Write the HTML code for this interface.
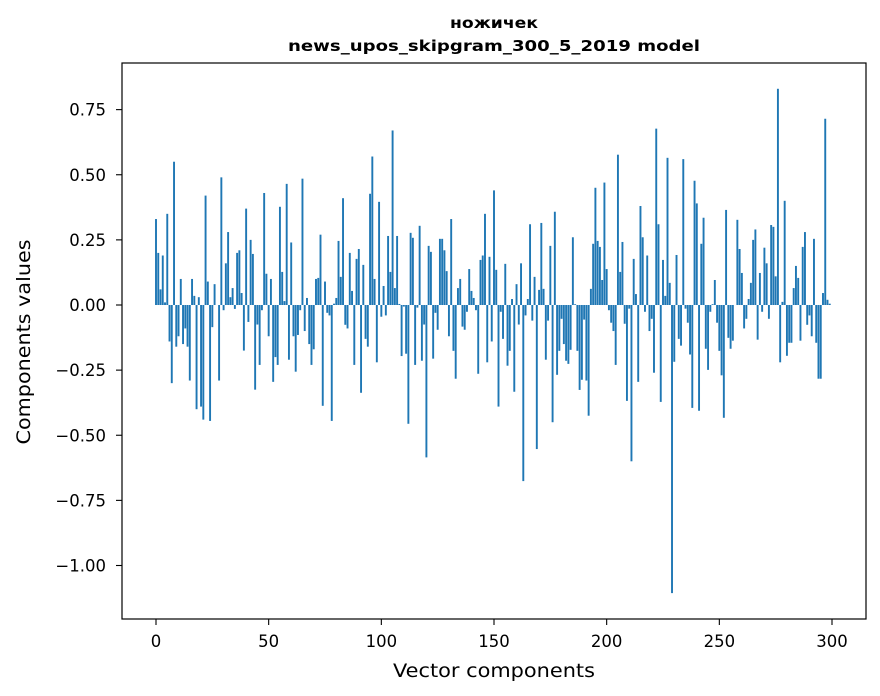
<!DOCTYPE html>
<html><head><meta charset="utf-8"><style>
body{margin:0;background:#fff;}
svg{display:block;font-family:"DejaVu Sans","Liberation Sans",sans-serif;}
</style></head><body>
<svg id="chart" width="880" height="696" viewBox="0 0 880 696" xmlns="http://www.w3.org/2000/svg">
<rect width="880" height="696" fill="#fff"/>
<text x="494" y="28" text-anchor="middle" font-size="15" font-weight="bold" textLength="88" lengthAdjust="spacingAndGlyphs">ножичек</text>
<text x="494" y="51" text-anchor="middle" font-size="15" font-weight="bold" textLength="412" lengthAdjust="spacingAndGlyphs">news_upos_skipgram_300_5_2019 model</text>
<g id="bars"></g>
<g id="xticks"></g>
<g id="yticks"></g>
<rect x="122" y="63" width="744" height="556" fill="none" stroke="#000" stroke-width="1.2"/>
<text x="494" y="677" text-anchor="middle" font-size="19" textLength="202" lengthAdjust="spacingAndGlyphs">Vector components</text>
<text x="0" y="0" transform="translate(30,342) rotate(-90)" text-anchor="middle" font-size="19" textLength="205" lengthAdjust="spacingAndGlyphs">Components values</text>
</svg>
<script>
const values = [
0.33,0.20,0.06,0.19,0.01,0.35,-0.14,-0.30,0.55,-0.16,
-0.12,0.10,-0.15,-0.09,-0.16,-0.29,0.10,0.035,-0.40,0.03,
-0.39,-0.44,0.42,0.09,-0.445,-0.085,0.08,0.0,-0.29,0.49,
-0.02,0.16,0.28,0.03,0.065,-0.015,0.20,0.21,0.046,-0.175,
0.37,-0.065,0.25,0.196,-0.325,-0.075,-0.23,-0.02,0.43,0.12,
-0.12,0.10,-0.295,-0.20,-0.23,0.377,0.127,0.015,0.465,-0.21,
0.24,-0.12,-0.256,-0.115,-0.02,0.485,-0.10,0.027,-0.15,-0.23,
-0.17,0.10,0.104,0.27,-0.387,0.09,-0.03,-0.04,-0.445,0.005,
0.027,0.246,0.108,0.41,-0.076,-0.09,0.20,0.054,-0.23,0.177,
0.215,-0.337,0.154,-0.13,-0.16,0.427,0.57,0.10,-0.22,0.396,
-0.045,0.073,-0.04,0.265,0.127,0.67,0.065,0.265,0.004,-0.196,
-0.006,-0.187,-0.456,0.277,0.258,-0.23,-0.01,0.304,-0.214,-0.075,
-0.585,0.227,0.204,-0.206,-0.03,-0.095,0.254,0.254,0.21,0.13,
-0.12,0.33,-0.176,-0.283,0.065,0.10,-0.083,-0.095,-0.026,0.138,
0.054,0.027,-0.02,-0.264,0.173,0.19,0.35,-0.22,0.185,-0.14,
0.44,0.135,-0.39,-0.026,-0.13,0.158,-0.233,-0.176,0.023,-0.333,
0.08,-0.075,0.16,-0.676,-0.04,0.023,0.31,-0.06,0.108,-0.553,
0.058,0.315,0.062,-0.21,-0.06,0.227,-0.45,0.358,-0.268,-0.176,
-0.053,-0.15,-0.214,-0.226,-0.172,0.26,0.003,-0.176,-0.326,-0.287,
-0.056,-0.29,-0.425,0.062,0.235,0.45,0.246,0.223,0.096,0.47,
0.138,-0.02,-0.068,-0.10,-0.23,0.577,0.127,0.242,-0.072,-0.368,
-0.014,-0.60,0.177,0.042,-0.295,0.38,0.26,-0.026,0.19,-0.10,
-0.053,-0.26,0.677,0.31,-0.372,0.173,0.035,0.565,0.085,-1.106,
-0.218,0.192,-0.13,-0.156,0.56,-0.014,-0.068,-0.19,-0.395,0.477,
0.39,-0.406,0.235,0.335,-0.168,-0.249,-0.026,0.003,0.096,-0.068,
-0.176,-0.27,-0.433,0.365,-0.126,-0.168,-0.137,0.0,0.327,0.215,
0.123,-0.09,-0.053,0.023,0.085,0.25,0.29,-0.133,0.123,-0.026,
0.22,0.16,-0.053,0.307,0.30,0.11,0.83,-0.22,0.012,0.40,
-0.195,-0.145,-0.145,0.065,0.15,0.104,-0.137,0.223,0.28,-0.076,
-0.04,-0.12,0.254,-0.145,-0.283,-0.283,0.046,0.715,0.02,0.005
];
const xTicks = [0,50,100,150,200,250,300];
const yTicks = [-1.00,-0.75,-0.50,-0.25,0.00,0.25,0.50,0.75];

const NS = "http://www.w3.org/2000/svg";
function xScale(i){ return 156 + i * (676/300); }
function yScale(v){ return 305 - v * 260.5; }
const bw = 0.85 * 676/300;

const gb = document.getElementById('bars');
values.forEach(function(v, i){
  const r = document.createElementNS(NS,'rect');
  const y0 = yScale(0), y1 = yScale(v);
  r.setAttribute('x', xScale(i) - bw/2);
  r.setAttribute('y', Math.min(y0,y1));
  r.setAttribute('width', bw);
  r.setAttribute('height', Math.max(Math.abs(y1-y0), 0.01));
  r.setAttribute('fill', '#1f77b4');
  
  
  gb.appendChild(r);
});

const gx = document.getElementById('xticks');
xTicks.forEach(function(t){
  const x = xScale(t);
  const l = document.createElementNS(NS,'line');
  l.setAttribute('x1',x); l.setAttribute('x2',x);
  l.setAttribute('y1',619); l.setAttribute('y2',625);
  l.setAttribute('stroke','#000'); l.setAttribute('stroke-width','1.1');
  
  
  gx.appendChild(l);
  const tx = document.createElementNS(NS,'text');
  tx.setAttribute('x',x); tx.setAttribute('y',647);
  tx.setAttribute('text-anchor','middle'); tx.setAttribute('font-size','16.5');
  tx.textContent = String(t);
  
  
  gx.appendChild(tx);
});

const gy = document.getElementById('yticks');
yTicks.forEach(function(t){
  const y = yScale(t);
  const l = document.createElementNS(NS,'line');
  l.setAttribute('x1',116); l.setAttribute('x2',122);
  l.setAttribute('y1',y); l.setAttribute('y2',y);
  l.setAttribute('stroke','#000'); l.setAttribute('stroke-width','1.1');
  
  
  gy.appendChild(l);
  const tx = document.createElementNS(NS,'text');
  tx.setAttribute('x',106); tx.setAttribute('y',y+6);
  tx.setAttribute('text-anchor','end'); tx.setAttribute('font-size','16.5');
  tx.textContent = (t < 0 ? '\u2212' : '') + Math.abs(t).toFixed(2);
  
  
  gy.appendChild(tx);
});
</script>
</body></html>
